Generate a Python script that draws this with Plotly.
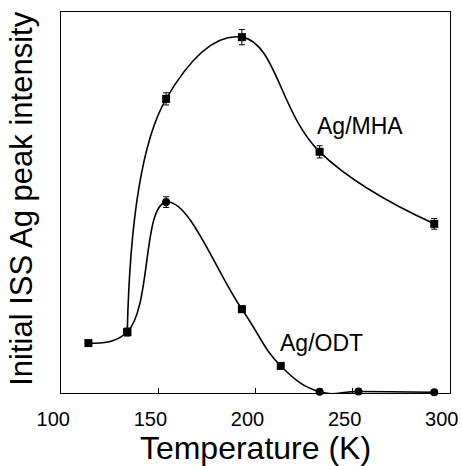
import plotly.graph_objects as go

# Data (arbitrary intensity units)
mha_T = [134, 154, 193, 233, 292]
mha_I = [16.0, 77.2, 93.4, 63.3, 44.4]
mha_err = [1.0, 1.6, 2.0, 1.6, 1.4]

odt_T = [114, 134, 154, 193, 213, 233, 253, 292]
odt_I = [13.1, 16.0, 50.1, 22.0, 7.1, 0.3, 0.4, 0.2]
odt_err = [0, 1.0, 1.4, 0.8, 0, 0, 0, 0]
odt_sym = ["square", "square", "circle", "square", "square", "circle", "circle", "circle"]

x_ticks = [100, 150, 200, 250, 300]

FONT = "Liberation Sans, Arial, sans-serif"

fig = go.Figure()
fig.add_trace(go.Scatter(
    x=mha_T, y=mha_I, mode="lines+markers",
    line=dict(color="black", width=1.6, shape="spline", smoothing=1.2),
    marker=dict(symbol="square", size=8, color="black"),
    error_y=dict(type="data", array=mha_err, visible=True, color="black", thickness=1, width=3),
    cliponaxis=False, showlegend=False))
fig.add_trace(go.Scatter(
    x=odt_T, y=odt_I, mode="lines+markers",
    line=dict(color="black", width=1.6, shape="spline", smoothing=1.2),
    marker=dict(symbol=odt_sym, size=8, color="black"),
    error_y=dict(type="data", array=odt_err, visible=True, color="black", thickness=1, width=3),
    cliponaxis=False, showlegend=False))

fig.add_annotation(x=254, y=70, text="Ag/MHA", showarrow=False,
                   font=dict(family=FONT, size=23, color="black"))
fig.add_annotation(x=234, y=13, text="Ag/ODT", showarrow=False,
                   font=dict(family=FONT, size=23, color="black"))
# y-axis title
fig.add_annotation(xref="paper", yref="paper", x=-0.10, y=0.51, textangle=-90,
                   text="Initial ISS Ag peak intensity", showarrow=False,
                   xanchor="center", yanchor="middle",
                   font=dict(family=FONT, size=31, color="black"))

fig.update_layout(
    width=461, height=466,
    margin=dict(l=61, r=11, t=12, b=73, autoexpand=False),
    paper_bgcolor="white", plot_bgcolor="white",
    font=dict(family=FONT, color="black"),
    xaxis=dict(range=[99.9, 300.1], tickvals=x_ticks, ticktext=[str(v) for v in x_ticks],
               automargin=False,
               ticks="inside", ticklen=5, tickcolor="black", showgrid=False, zeroline=False,
               showline=True, linecolor="black", linewidth=1.2, mirror=True,
               ticklabelstandoff=8, ticklabelshift=-8, ticklabeloverflow="allow",
               tickfont=dict(size=20), title=dict(text="Temperature (K)", font=dict(size=32), standoff=0)),
    yaxis=dict(range=[0, 100], showticklabels=False, ticks="", showgrid=False, zeroline=False,
               automargin=False,
               showline=True, linecolor="black", linewidth=1.2, mirror=True),
)

fig.write_html("out.html")
